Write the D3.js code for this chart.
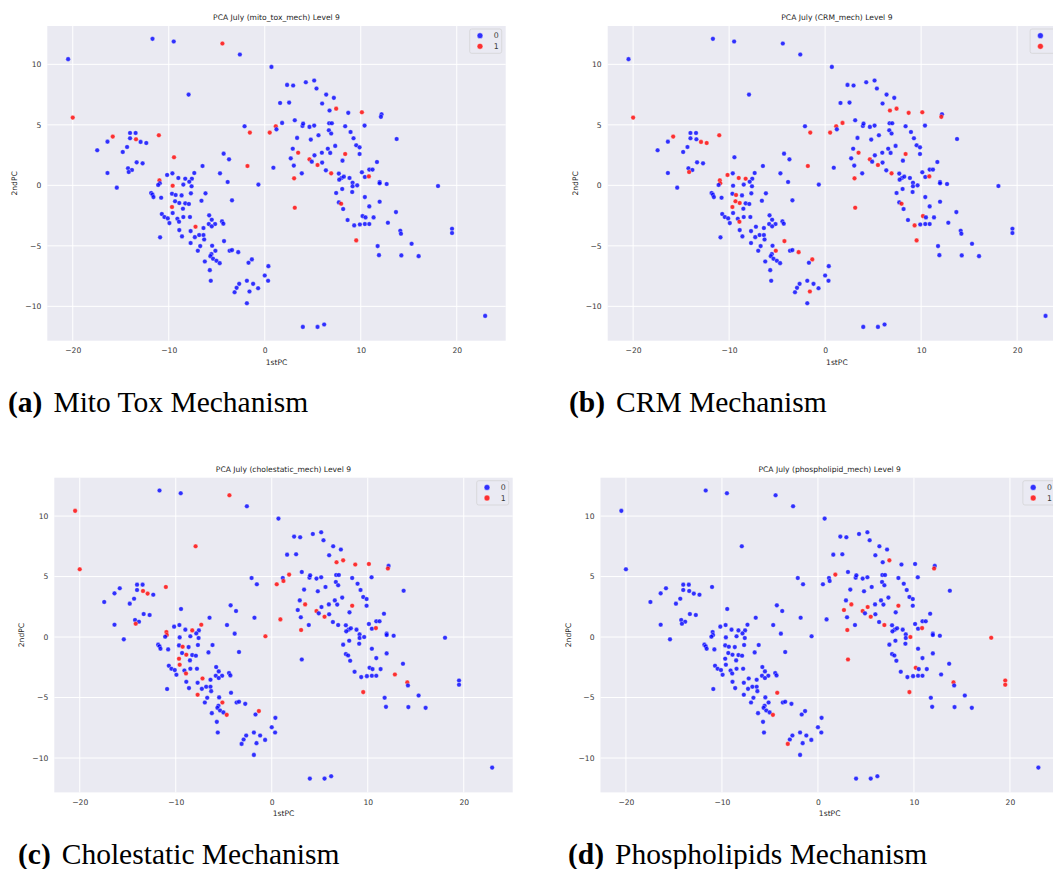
<!DOCTYPE html>
<html>
<head>
<meta charset="utf-8">
<script src="https://cdn.jsdelivr.net/npm/d3@7"></script>
<style>
  body { margin: 0; background: #fff; }
  svg { display: block; }
</style>
</head>
<body>
<svg id="fig" width="1053" height="869"></svg>
<script>
// First principal component of each compound
const pc1 = [
  -11.69, -9.48, -4.41, -2.59, -20.48, -7.93, -20.00, -2.10, -1.55, -15.83,
  -14.03, -13.45, -14.03, -13.41, -12.93, -12.34, -11.03, -16.38, -14.34, -14.79,
  -17.45, -4.28, -9.45, -3.72, -13.34, -12.72, -6.48, -14.24, -13.83, -14.17,
  -16.38, -9.62, -7.34, -4.66, -10.17, -9.00, -8.28, -7.59, -7.86, -3.86,
  -10.97, -10.93, -11.10, -9.59, -8.48, -7.62, -0.66, -15.41, -11.83, -11.69,
  -11.59, -10.79, -9.66, -9.28, -8.66, -7.69, -6.17, -9.34, -8.90, -8.28,
  -6.59, -7.90, -3.41, -9.66, -8.52, -9.59, -10.72, -10.45, -10.10, -9.93,
  -9.10, -8.48, -8.93, -7.79, -5.79, -5.52, -5.17, -5.83, -7.21, -5.52,
  -6.38, -4.45, -4.31, -8.90, -7.72, -10.90, -8.62, -7.28, -6.83, -6.38,
  -6.31, -4.24, -7.72, -6.72, -5.48, -6.97, -3.66, -3.41, -2.76, -5.14,
  -5.55, -5.66, -5.38, -5.03, -4.69, -6.24, -1.34, -1.69, -5.72, -5.62,
  -2.66, -1.86, -1.21, -2.93, -3.14, -1.59, -0.69, -1.86, 0.00, -1.80,
  0.38, 0.35,
  0.70, 2.33, 2.96, 4.28, 5.15, 5.39, 6.40, 7.20, 1.60, 2.54,
  5.98, 6.75, 7.44, 8.70, 10.12, 12.17, 12.10, 1.81, 1.15, 1.22,
  0.52, 3.13, 3.93, 4.00, 4.66, 5.15, 6.71, 6.99, 6.68, 6.92,
  8.38, 8.94, 10.40, 9.25, 3.37, 4.80, 5.60, 13.74, 9.53, 9.88,
  9.88, 7.34, 6.57, 2.92, 3.48, 5.95, 6.82, 8.38, 5.18, 2.71,
  4.66, 4.90, 5.98, 5.50, 8.10, 11.69, 3.03, 0.90, 6.37, 6.92,
  3.86, 10.12, 10.89, 11.23, 7.72, 8.00, 8.24, 7.76, 8.83, 10.43,
  10.85, 3.06, 9.15, 9.15, 9.63, 11.97, 11.97, 12.70, 18.05, 8.07,
  7.44, 9.11, 10.43, 7.72, 7.96, 11.97, 10.89, 8.17, 3.13, 13.67,
  10.19, 10.50, 11.34, 8.63, 12.83, 9.32, 9.91, 10.43, 10.89, 14.12,
  14.19, 19.51, 19.51, 9.53, 11.76, 15.30, 11.90, 14.23, 16.03, 22.96,
  3.97, 5.50, 6.19
];

// Second principal component, same order as pc1
const pc2 = [
  12.11, 11.89, 11.72, 10.81, 10.43, 7.50, 5.60, 4.88, 4.36, 4.03,
  4.33, 4.33, 3.89, 3.81, 3.59, 3.50, 4.14, 3.61, 3.17, 2.76,
  2.90, 2.62, 2.32, 2.15, 1.90, 1.82, 1.60, 1.41, 1.27, 1.10,
  1.02, 0.99, 1.02, 0.99, 0.86, 0.61, 0.55, 0.55, 0.30, 0.28,
  0.41, 0.17, 0.03, -0.03, 0.06, -0.08, 0.06, -0.19, -0.63, -0.77,
  -0.97, -1.02, -0.69, -0.80, -0.83, -0.66, -0.66, -1.32, -1.46, -1.49,
  -1.27, -1.54, -1.24, -1.79, -1.93, -2.29, -2.37, -2.62, -2.73, -3.12,
  -2.76, -2.62, -3.01, -2.62, -2.48, -2.84, -3.20, -3.20, -3.42, -3.39,
  -3.53, -2.98, -3.17, -3.70, -3.78, -4.30, -4.22, -4.28, -4.11, -4.11,
  -4.47, -4.61, -4.77, -5.02, -4.99, -5.41, -5.41, -5.35, -5.52, -5.41,
  -5.68, -5.85, -6.07, -6.23, -6.43, -6.29, -6.12, -6.40, -7.01, -7.89,
  -8.14, -7.89, -8.14, -8.47, -8.83, -8.77, -8.50, -9.74, -7.45, 1.60,
  -6.68, -7.89,
  9.79, 8.30, 8.25, 8.52, 8.66, 8.00, 7.50, 7.23, 6.81, 6.84,
  6.76, 6.18, 6.34, 5.99, 6.04, 5.88, 5.66, 5.16, 4.88, 4.63,
  4.36, 5.38, 4.91, 5.10, 4.83, 4.94, 5.13, 5.13, 4.55, 4.28,
  4.88, 4.41, 4.94, 3.89, 3.92, 3.78, 4.14, 3.83, 3.31, 3.14,
  2.59, 3.26, 3.03, 3.03, 2.70, 2.70, 2.68, 2.59, 2.48, 2.23,
  2.15, 1.96, 1.88, 1.68, 2.04, 1.93, 1.63, 1.46, 1.24, 0.99,
  0.99, 1.08, 1.30, 1.30, 0.97, 0.61, 0.72, 0.47, 0.61, 0.69,
  0.74, 0.58, 0.22, -0.08, 0.00, 0.28, 0.17, 0.11, -0.06, -0.30,
  -0.63, -0.55, -0.97, -1.41, -1.52, -1.35, -1.74, -1.96, -1.85, -2.21,
  -2.54, -2.65, -2.65, -2.87, -3.09, -3.31, -3.23, -3.20, -3.20, -3.75,
  -4.00, -3.59, -3.94, -4.55, -5.02, -4.83, -5.77, -5.79, -5.85, -10.79,
  -11.70, -11.70, -11.50
];

// Compounds flagged positive (label 1) for each mechanism, as positions in pc1/pc2
const mitoToxPositive = [2, 6, 8, 9, 13, 16, 22, 40, 43, 63, 78, 119, 134, 136, 140, 142,
  166, 169, 172, 175, 181, 192, 193, 206, 210, 225];
const crmPositive = [6, 8, 9, 14, 15, 16, 29, 34, 35, 36, 40, 41, 53, 57, 58, 63, 72, 91,
  98, 99, 106, 115, 119, 133, 134, 135, 136, 138, 139, 140, 142, 166, 169, 172, 175, 181,
  192, 193, 206, 210, 212, 217, 225];
const cholestaticPositive = [2, 4, 5, 6, 13, 14, 16, 29, 32, 36, 40, 41, 46, 53, 58, 63, 65,
  72, 78, 92, 99, 104, 106, 133, 134, 135, 136, 138, 139, 141, 142, 166, 169, 172, 175, 179,
  192, 193, 216, 221, 225];
const phospholipidPositive = [91, 104, 114, 134, 138, 139, 166, 169, 170, 171, 172, 175, 181,
  192, 193, 196, 200, 210, 212, 221, 223, 224, 225];

const xTicks = [-20, -10, 0, 10, 20];
const yTicks = [-10, -5, 0, 5, 10];
const classLabels = ["0", "1"];
const classColors = ["#0000ff", "#ff0000"];

const panels = [
  { mech: "mito_tox_mech", positives: mitoToxPositive, left: 47.3, top: 26,
    tag: "(a)", caption: "Mito Tox Mechanism", capX: 8, capY: 412 },
  { mech: "CRM_mech", positives: crmPositive, left: 607.7, top: 26,
    tag: "(b)", caption: "CRM Mechanism", capX: 569, capY: 412 },
  { mech: "cholestatic_mech", positives: cholestaticPositive, left: 54.3, top: 477.7,
    tag: "(c)", caption: "Cholestatic Mechanism", capX: 18, capY: 864 },
  { mech: "phospholipid_mech", positives: phospholipidPositive, left: 600.5, top: 477.7,
    tag: "(d)", caption: "Phospholipids Mechanism", capX: 568, capY: 864 }
];

const plotW = 458.4, plotH = 314.7;
const x = d3.scaleLinear().domain([-22.65, 25.1]).range([0, plotW]);
const y = d3.scaleLinear().domain([-12.84, 13.17]).range([plotH, 0]);

const svg = d3.select("#fig");
svg.append("rect").attr("width", 1053).attr("height", 869).attr("fill", "#fff");

const sans = "'DejaVu Sans', sans-serif";
const fmt = d3.format("d");

panels.forEach(p => {
  const flags = new Set(p.positives);
  const rows = pc1.map((v, i) => ({ pc1: v, pc2: pc2[i], label: flags.has(i) ? 1 : 0 }));

  const g = svg.append("g").attr("transform", `translate(${p.left},${p.top})`);

  // axes background
  g.append("rect").attr("width", plotW).attr("height", plotH).attr("fill", "#eaeaf2");

  // grid
  g.append("g").selectAll("line").data(xTicks).join("line")
    .attr("x1", d => x(d)).attr("x2", d => x(d))
    .attr("y1", 0).attr("y2", plotH)
    .attr("stroke", "#fff").attr("stroke-width", 1);
  g.append("g").selectAll("line").data(yTicks).join("line")
    .attr("x1", 0).attr("x2", plotW)
    .attr("y1", d => y(d)).attr("y2", d => y(d))
    .attr("stroke", "#fff").attr("stroke-width", 1);

  // tick labels
  const xa = g.append("g").attr("transform", `translate(0,${plotH})`)
    .call(d3.axisBottom(x).tickValues(xTicks).tickSize(0).tickPadding(7).tickFormat(fmt));
  const ya = g.append("g")
    .call(d3.axisLeft(y).tickValues(yTicks).tickSize(0).tickPadding(6).tickFormat(fmt));
  [xa, ya].forEach(a => {
    a.select(".domain").remove();
    a.selectAll("text").attr("fill", "#3a3a3a").style("font-family", sans).style("font-size", "7.6px");
  });

  // points
  g.append("g").selectAll("circle").data(rows).join("circle")
    .attr("cx", d => x(d.pc1)).attr("cy", d => y(d.pc2)).attr("r", 2.3)
    .attr("fill", d => classColors[d.label]).attr("fill-opacity", 0.8)
    .attr("stroke", "#fff").attr("stroke-width", 0.4).attr("stroke-opacity", 0.8);

  // legend
  const lg = g.append("g").attr("transform", `translate(${plotW - 36},${3})`);
  lg.append("rect").attr("width", 32).attr("height", 24.3).attr("rx", 2)
    .attr("fill", "#eaeaf2").attr("fill-opacity", 0.8).attr("stroke", "#cccccc").attr("stroke-width", 0.6);
  classLabels.forEach((lab, i) => {
    lg.append("circle").attr("cx", 10.3).attr("cy", 6.7 + i * 10.6).attr("r", 2.9)
      .attr("fill", classColors[i]).attr("fill-opacity", 0.8).attr("stroke", "#fff").attr("stroke-width", 0.4);
    lg.append("text").attr("x", 29).attr("y", 6.7 + i * 10.6).attr("dy", "0.35em")
      .attr("text-anchor", "end").attr("fill", "#3a3a3a")
      .style("font-family", sans).style("font-size", "7.8px").text(lab);
  });

  // title and axis labels
  g.append("text").attr("x", plotW / 2).attr("y", -6).attr("text-anchor", "middle")
    .attr("fill", "#262626").style("font-family", sans).style("font-size", "7.6px")
    .text(`PCA July (${p.mech}) Level 9`);
  g.append("text").attr("x", plotW / 2).attr("y", plotH + 24).attr("text-anchor", "middle")
    .attr("fill", "#262626").style("font-family", sans).style("font-size", "7.6px")
    .text("1stPC");
  g.append("text").attr("transform", `translate(-30,${plotH / 2}) rotate(-90)`)
    .attr("text-anchor", "middle").attr("fill", "#262626")
    .style("font-family", sans).style("font-size", "7.6px").text("2ndPC");

  // subfigure caption
  const cap = svg.append("text").attr("x", p.capX).attr("y", p.capY)
    .style("font-family", "'Liberation Serif', serif").style("font-size", "29.5px").attr("fill", "#000");
  cap.append("tspan").style("font-weight", "bold").text(p.tag);
  cap.append("tspan").attr("dx", 11).text(p.caption);
});
</script>
</body>
</html>
